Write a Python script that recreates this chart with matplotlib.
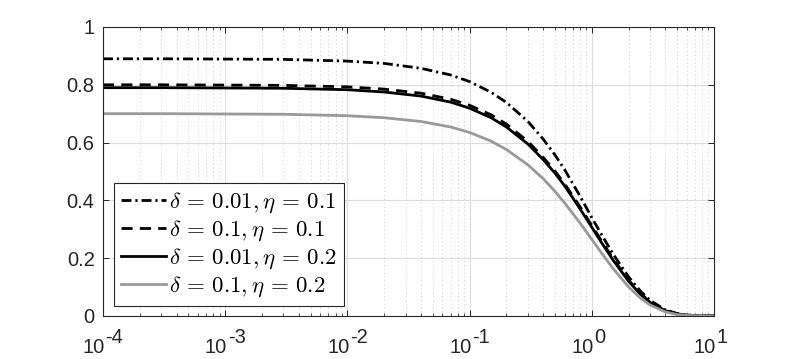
import numpy as np
import matplotlib
matplotlib.use("Agg")
from matplotlib import pyplot as plt
from matplotlib.ticker import LogLocator, NullFormatter

# values (x on a log scale)
x = [1e-4, 3e-4, 1e-3, 3e-3, 1e-2, 2e-2, 4e-2, 0.07, 0.1, 0.15, 0.2, 0.3, 0.4,
     0.5, 0.6, 0.8, 1.0, 1.2, 1.5, 2.0, 2.5, 3.0, 4.0, 5.0, 6.0, 8.0, 10.0]

d001_e01 = [0.890, 0.890, 0.889, 0.888, 0.882, 0.874, 0.857, 0.834, 0.811, 0.774,
            0.739, 0.673, 0.612, 0.557, 0.506, 0.415, 0.340, 0.282, 0.213, 0.135,
            0.086, 0.054, 0.021, 0.008, 0.003, 0.0005, 0.0001]
d01_e01 = [0.800, 0.800, 0.799, 0.798, 0.793, 0.785, 0.771, 0.750, 0.729, 0.696,
           0.664, 0.604, 0.549, 0.501, 0.457, 0.378, 0.313, 0.260, 0.197, 0.124,
           0.078, 0.049, 0.019, 0.008, 0.003, 0.0005, 0.0001]
d001_e02 = [0.790, 0.790, 0.789, 0.788, 0.783, 0.775, 0.761, 0.740, 0.719, 0.686,
            0.654, 0.595, 0.541, 0.494, 0.450, 0.371, 0.307, 0.254, 0.192, 0.120,
            0.075, 0.047, 0.018, 0.007, 0.003, 0.0004, 0.0001]
d01_e02 = [0.700, 0.700, 0.699, 0.698, 0.693, 0.686, 0.673, 0.654, 0.635, 0.605,
           0.576, 0.523, 0.475, 0.431, 0.391, 0.322, 0.265, 0.218, 0.163, 0.100,
           0.062, 0.038, 0.014, 0.005, 0.002, 0.0003, 0.0]

labels = [r"$\delta\,=\,0.01,\eta\,=\,0.1$", r"$\delta\,=\,0.1,\eta\,=\,0.1$",
          r"$\delta\,=\,0.01,\eta\,=\,0.2$", r"$\delta\,=\,0.1,\eta\,=\,0.2$"]

xticks = [1e-4, 1e-3, 1e-2, 1e-1, 1, 10]
xexps = ["-4", "-3", "-2", "-1", "0", "1"]
yticks = [0, 0.2, 0.4, 0.6, 0.8, 1]
yticklabels = ["0", "0.2", "0.4", "0.6", "0.8", "1"]

plt.rcParams["font.family"] = ["Liberation Sans", "DejaVu Sans"]
plt.rcParams["mathtext.fontset"] = "cm"
axcol = "#262626"
fs = 14.5

fig = plt.figure(figsize=(7.89, 3.59), dpi=100)
ax = fig.add_axes([0.1305, 0.1198, 0.7745, 0.805])

ax.plot(x, d001_e01, color="black", lw=2, dashes=(3.6, 1.4, 0.8, 1.4), label=labels[0])
ax.plot(x, d01_e01, color="black", lw=2, dashes=(4, 2.6), label=labels[1])
ax.plot(x, d001_e02, color="black", lw=2, label=labels[2])
ax.plot(x, d01_e02, color="#999999", lw=2, label=labels[3])

ax.set_xscale("log")
ax.set_xlim(1e-4, 10)
ax.set_ylim(0, 1)
ax.set_yticks(yticks)
ax.set_yticklabels(yticklabels)
ax.set_xticks(xticks)
ax.set_xticklabels([""] * len(xticks))
ax.xaxis.set_minor_locator(LogLocator(base=10, subs=np.arange(2, 10), numticks=20))
ax.xaxis.set_minor_formatter(NullFormatter())

# MATLAB-style 10^n labels: exponent at full size, raised
for v, e in zip(xticks, xexps):
    ax.annotate("10", xy=(v, 0), xycoords=("data", "axes fraction"),
                xytext=(2, -37), textcoords="offset pixels", ha="right",
                va="baseline", fontsize=fs, color=axcol)
    ax.annotate(e, xy=(v, 0), xycoords=("data", "axes fraction"),
                xytext=(2.5, -27), textcoords="offset pixels", ha="left",
                va="baseline", fontsize=fs, color=axcol)

ax.grid(True, which="major", color="#dcdcdc", lw=0.8)
ax.grid(True, which="minor", axis="x", color="#cfcfcf", lw=0.7, ls=(0, (1, 3)))
ax.set_axisbelow(True)

ax.tick_params(which="both", direction="in", top=True, right=True, colors=axcol,
               labelsize=fs)
ax.tick_params(which="major", length=4.5, width=0.7)
ax.tick_params(which="minor", length=2.5, width=0.6)
ax.tick_params(axis="y", which="major", pad=6)
for s in ax.spines.values():
    s.set_color(axcol)
    s.set_linewidth(0.8)

leg = ax.legend(loc="lower left", bbox_to_anchor=(0.018, 0.035), fontsize=16.5,
                handlelength=1.95, handletextpad=0.15, labelspacing=0.12,
                borderpad=0.3, borderaxespad=0, fancybox=False, framealpha=1)
leg.get_frame().set_edgecolor(axcol)
leg.get_frame().set_linewidth(0.8)

fig.savefig("out.png", dpi=100)
